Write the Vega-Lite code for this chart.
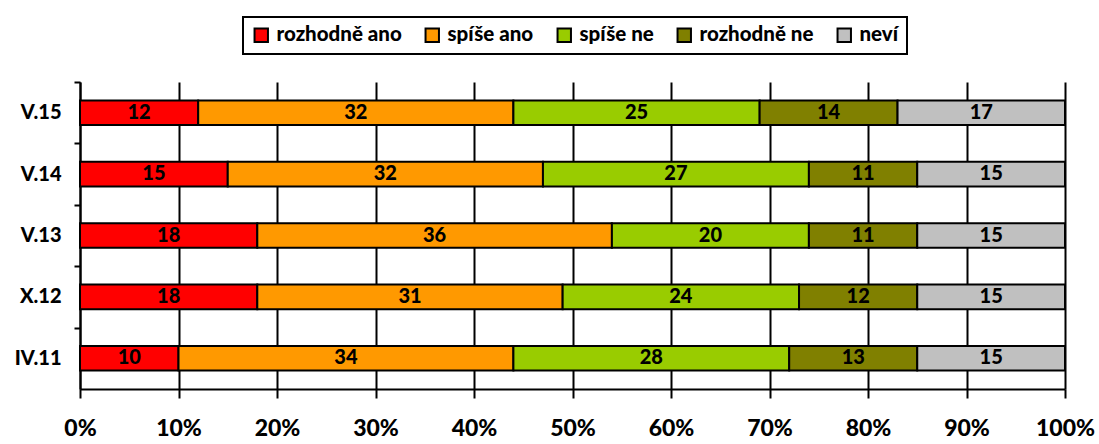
{
  "$schema": "https://vega.github.io/schema/vega-lite/v6.json",
  "width": 985,
  "height": 307,
  "autosize": "none",
  "padding": {"left": 80, "top": 82, "right": 34, "bottom": 55},
  "background": "white",
  "config": {
    "font": "Lato",
    "view": {"stroke": null},
    "axis": {"labelFont": "Lato", "labelFontWeight": 900, "labelColor": "black"}
  },
  "data": {
    "values": [
      {"obdobi": "V.15", "odpoved": "rozhodně ano", "poradi": 1, "hodnota": 12},
      {"obdobi": "V.15", "odpoved": "spíše ano", "poradi": 2, "hodnota": 32},
      {"obdobi": "V.15", "odpoved": "spíše ne", "poradi": 3, "hodnota": 25},
      {"obdobi": "V.15", "odpoved": "rozhodně ne", "poradi": 4, "hodnota": 14},
      {"obdobi": "V.15", "odpoved": "neví", "poradi": 5, "hodnota": 17},
      {"obdobi": "V.14", "odpoved": "rozhodně ano", "poradi": 1, "hodnota": 15},
      {"obdobi": "V.14", "odpoved": "spíše ano", "poradi": 2, "hodnota": 32},
      {"obdobi": "V.14", "odpoved": "spíše ne", "poradi": 3, "hodnota": 27},
      {"obdobi": "V.14", "odpoved": "rozhodně ne", "poradi": 4, "hodnota": 11},
      {"obdobi": "V.14", "odpoved": "neví", "poradi": 5, "hodnota": 15},
      {"obdobi": "V.13", "odpoved": "rozhodně ano", "poradi": 1, "hodnota": 18},
      {"obdobi": "V.13", "odpoved": "spíše ano", "poradi": 2, "hodnota": 36},
      {"obdobi": "V.13", "odpoved": "spíše ne", "poradi": 3, "hodnota": 20},
      {"obdobi": "V.13", "odpoved": "rozhodně ne", "poradi": 4, "hodnota": 11},
      {"obdobi": "V.13", "odpoved": "neví", "poradi": 5, "hodnota": 15},
      {"obdobi": "X.12", "odpoved": "rozhodně ano", "poradi": 1, "hodnota": 18},
      {"obdobi": "X.12", "odpoved": "spíše ano", "poradi": 2, "hodnota": 31},
      {"obdobi": "X.12", "odpoved": "spíše ne", "poradi": 3, "hodnota": 24},
      {"obdobi": "X.12", "odpoved": "rozhodně ne", "poradi": 4, "hodnota": 12},
      {"obdobi": "X.12", "odpoved": "neví", "poradi": 5, "hodnota": 15},
      {"obdobi": "IV.11", "odpoved": "rozhodně ano", "poradi": 1, "hodnota": 10},
      {"obdobi": "IV.11", "odpoved": "spíše ano", "poradi": 2, "hodnota": 34},
      {"obdobi": "IV.11", "odpoved": "spíše ne", "poradi": 3, "hodnota": 28},
      {"obdobi": "IV.11", "odpoved": "rozhodně ne", "poradi": 4, "hodnota": 13},
      {"obdobi": "IV.11", "odpoved": "neví", "poradi": 5, "hodnota": 15}
    ]
  },
  "encoding": {
    "y": {
      "field": "obdobi",
      "type": "nominal",
      "sort": ["V.15", "V.14", "V.13", "X.12", "IV.11"],
      "scale": {"paddingInner": 0.6, "paddingOuter": 0.3},
      "axis": {
        "title": null,
        "domainColor": "black",
        "domainWidth": 2,
        "tickColor": "black",
        "tickWidth": 2,
        "tickSize": 6,
        "tickOffset": -30.7,
        "labelOffset": 30.7,
        "labelFontSize": 20,
        "labelPadding": 13
      }
    },
    "order": {"field": "poradi", "type": "quantitative", "sort": "ascending"}
  },
  "layer": [
    {
      "mark": {"type": "bar", "stroke": "black", "strokeWidth": 2},
      "encoding": {
        "x": {
          "field": "hodnota",
          "type": "quantitative",
          "stack": "normalize",
          "scale": {"domain": [0, 1], "nice": false},
          "axis": {
            "title": null,
            "format": ".0%",
            "values": [0, 0.1, 0.2, 0.3, 0.4, 0.5, 0.6, 0.7, 0.8, 0.9, 1],
            "grid": true,
            "gridColor": "#000000",
            "gridWidth": 2,
            "gridOpacity": 1,
            "domainColor": "black",
            "domainWidth": 2,
            "tickColor": "black",
            "tickWidth": 2,
            "tickSize": 9,
            "labelFontSize": 23,
            "labelPadding": 19,
            "labelFlush": false,
            "zindex": 0
          }
        },
        "color": {
          "field": "odpoved",
          "type": "nominal",
          "scale": {
            "domain": ["rozhodně ano", "spíše ano", "spíše ne", "rozhodně ne", "neví"],
            "range": ["#FF0000", "#FF9900", "#99CC00", "#808000", "#C0C0C0"]
          },
          "legend": {
            "title": null,
            "orient": "none",
            "legendX": 163,
            "legendY": -65,
            "direction": "horizontal",
            "symbolType": "square",
            "symbolSize": 180,
            "symbolStrokeColor": "black",
            "symbolStrokeWidth": 2,
            "symbolOpacity": 1,
            "labelFont": "Lato",
            "labelFontWeight": 900,
            "labelFontSize": 20.5,
            "labelColor": "black",
            "labelOffset": 5,
            "columnPadding": 19,
            "strokeColor": "black",
            "padding": 8,
            "fillColor": "white",
            "encode": {"legend": {"update": {"strokeWidth": {"value": 2}}}}
          }
        }
      }
    },
    {
      "mark": {"type": "text", "fontWeight": 900, "fontSize": 20, "color": "black", "baseline": "middle", "align": "center", "font": "Lato"},
      "encoding": {
        "x": {"field": "hodnota", "type": "quantitative", "stack": "normalize", "bandPosition": 0.5},
        "detail": {"field": "odpoved", "type": "nominal"},
        "text": {"field": "hodnota", "type": "quantitative"}
      }
    }
  ]
}
